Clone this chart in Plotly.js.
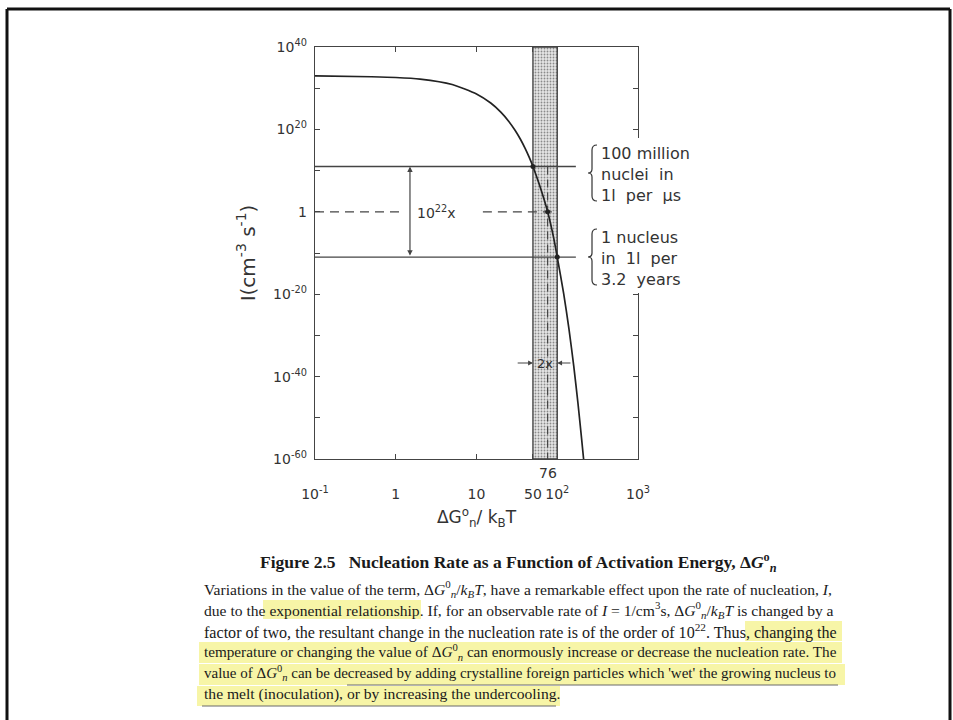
<!DOCTYPE html>
<html>
<head>
<meta charset="utf-8">
<script src="https://cdn.plot.ly/plotly-3.0.1.min.js"></script>
<style>
  html, body { margin: 0; padding: 0; background: #ffffff; }
  #chart { width: 953px; height: 720px; }
</style>
</head>
<body>
<div id="chart"></div>
<script>
// Nucleation rate I (cm^-3 s^-1) against the reduced activation energy ΔG°n / kBT
const energy = [0.1, 0.5, 1, 2, 5, 10, 15, 20, 25, 30, 35, 40, 45, 50, 60, 76, 90, 100, 120, 140, 160, 180, 200, 212];
const rate = [1e33, 6e32, 4e32, 1.6e32, 8e30, 4e28, 2.5e26, 1.6e24, 1e22, 6e19, 4e17, 2.5e15, 1.6e13,
              1e11, 4e6, 1, 6e-7, 1e-11, 1.6e-20, 2.5e-29, 4e-38, 6e-47, 1e-55, 1e-60];

// factor-of-two window of ΔG°n/kBT and the point where I = 1
const band = [50, 100];
const centreEnergy = 76;
const unitRate = 1;

// reference rates: 100 million nuclei in 1 l per µs, and 1 nucleus in 1 l per 3.2 years
const refRates = [1e11, 1e-11];
const refLineEnd = 170;

// points where the curve crosses the reference rates
const markEnergy = [50, 76, 100];
const markRate = [1e11, 1, 1e-11];

// axis ticks
const energyTicks = [0.1, 1, 10, 50, 100, 1000];
const energyTickText = ['10<sup>-1</sup>', '1', '10', '50', '10<sup>2</sup>', '10<sup>3</sup>'];
const rateTicks = [1e-60, 1e-50, 1e-40, 1e-30, 1e-20, 1e-10, 1, 1e10, 1e20, 1e30, 1e40];
const rateTickText = ['10<sup>-60</sup>', '', '10<sup>-40</sup>', '', '10<sup>-20</sup>', '', '1', '', '10<sup>20</sup>', '', '10<sup>40</sup>'];

// plot frame in pixels
const W = 953, H = 720;
const L = 315, R = 638, T = 47, B = 459;
const px = x => (x - L) / (R - L);
const py = y => (B - y) / (B - T);
const lg = Math.log10;

const ink = '#333333';
const lineInk = '#444444';
const plotFont = 'DejaVu Sans, Verdana, sans-serif';
const textFont = 'Liberation Serif, Times New Roman, serif';

const yMin = rateTicks[0], yMax = rateTicks[rateTicks.length - 1];

const traces = [
  // shaded factor-of-two window
  {
    x: [band[0], band[1], band[1], band[0], band[0]],
    y: [yMin, yMin, yMax, yMax, yMin],
    mode: 'lines', fill: 'toself',
    fillcolor: '#dedede',
    fillpattern: { shape: '.', size: 3, solidity: 0.3, fgcolor: '#8a8a8a', bgcolor: '#e6e6e6' },
    line: { color: '#3c3c3c', width: 1.3 },
    hoverinfo: 'skip'
  },
  // reference rate lines
  {
    x: [energy[0], refLineEnd], y: [refRates[0], refRates[0]],
    mode: 'lines', line: { color: lineInk, width: 1.3 }, hoverinfo: 'skip'
  },
  {
    x: [energy[0], refLineEnd], y: [refRates[1], refRates[1]],
    mode: 'lines', line: { color: lineInk, width: 1.3 }, hoverinfo: 'skip'
  },
  // I = 1 dashed guide, broken round the 10^22 label
  {
    x: [energy[0], 1.3], y: [unitRate, unitRate],
    mode: 'lines', line: { color: lineInk, width: 1.2, dash: '9px,6px' }, hoverinfo: 'skip'
  },
  {
    x: [12, band[1]], y: [unitRate, unitRate],
    mode: 'lines', line: { color: lineInk, width: 1.2, dash: '9px,6px' }, hoverinfo: 'skip'
  },
  // vertical dashed guide at ΔG°n/kBT = 76
  {
    x: [centreEnergy, centreEnergy], y: [refRates[0], yMin],
    mode: 'lines', line: { color: lineInk, width: 1.2, dash: '8px,5px' }, hoverinfo: 'skip'
  },
  // nucleation rate curve
  {
    x: energy, y: rate,
    mode: 'lines', line: { color: '#222222', width: 1.7, shape: 'spline', smoothing: 0.6 },
    hoverinfo: 'skip'
  },
  // crossing points
  {
    x: markEnergy, y: markRate,
    mode: 'markers', marker: { color: '#222222', size: 5 }, hoverinfo: 'skip'
  }
];

// curly brace drawn in pixel space, converted to paper coordinates
function brace(x, y0, y1) {
  const m = (y0 + y1) / 2, w = 5;
  const P = (a, b) => px(a).toFixed(5) + ',' + py(b).toFixed(5);
  return 'M' + P(x + w, y0) +
    ' Q' + P(x, y0) + ' ' + P(x, y0 + 5) +
    ' L' + P(x, m - 4) +
    ' Q' + P(x, m) + ' ' + P(x - 4, m) +
    ' Q' + P(x, m) + ' ' + P(x, m + 4) +
    ' L' + P(x, y1 - 5) +
    ' Q' + P(x, y1) + ' ' + P(x + w, y1);
}

const hiColor = 'rgba(240, 236, 95, 0.55)';
const hi = (x0, x1, y0, y1) => ({
  type: 'rect', xref: 'paper', yref: 'paper', layer: 'below',
  x0: px(x0), x1: px(x1), y0: py(y1), y1: py(y0),
  fillcolor: hiColor, line: { width: 0 }
});
const pen = (x0, x1, y) => ({
  type: 'line', xref: 'paper', yref: 'paper', layer: 'above',
  x0: px(x0), x1: px(x1), y0: py(y), y1: py(y),
  line: { color: '#6a6a6a', width: 1 }
});
const edge = (x0, y0, x1, y1) => ({
  type: 'line', xref: 'paper', yref: 'paper', layer: 'above',
  x0: px(x0), x1: px(x1), y0: py(y0), y1: py(y1),
  line: { color: '#111111', width: 3 }
});

const shapes = [
  // page border
  edge(7, 9, 950, 9),
  edge(7, 9, 7, 720),
  edge(950, 9, 950, 720),
  // gap in the right-hand frame where the notes sit
  {
    type: 'rect', xref: 'paper', yref: 'paper', layer: 'above',
    x0: px(628), x1: px(700), y0: py(293), y1: py(138),
    fillcolor: '#ffffff', line: { width: 0 }
  },
  { type: 'path', xref: 'paper', yref: 'paper', path: brace(592, 145, 201), line: { color: ink, width: 1.2 } },
  { type: 'path', xref: 'paper', yref: 'paper', path: brace(592, 229, 285), line: { color: ink, width: 1.2 } },
  // marker highlights in the caption
  hi(263, 421, 600, 619),
  hi(745, 842, 621, 641),
  hi(199, 842, 642, 663),
  hi(199, 845, 664, 685),
  hi(197, 560, 686, 706),
  pen(347, 838, 685),
  pen(202, 556, 706)
];

const dG = 'Δ<i>G</i><sup>0</sup><sub><i>n</i></sub>';
const captionLines = [
  'Variations in the value of the term, ' + dG + '/<i>k<sub>B</sub>T</i>, have a remarkable effect upon the rate of nucleation, <i>I</i>,',
  'due to the exponential relationship. If, for an observable rate of <i>I</i> = 1/cm<sup>3</sup>s, ' + dG + '/<i>k<sub>B</sub>T</i> is changed by a',
  'factor of two, the resultant change in the nucleation rate is of the order of 10<sup>22</sup>. Thus, changing the',
  'temperature or changing the value of ' + dG + ' can enormously increase or decrease the nucleation rate. The',
  'value of ' + dG + ' can be decreased by adding crystalline foreign particles which \'wet\' the growing nucleus to',
  'the melt (inoculation), or by increasing the undercooling.'
];
const captionY = [589, 610, 631, 652, 673, 694];
// per-line sizes so the full lines span the same width, as in a justified block
const captionSize = [15.6, 15.6, 16.1, 15.2, 15.0, 15.6];

const notes = [
  // right-hand notes
  {
    xref: 'paper', yref: 'paper', x: px(599), y: py(174), xanchor: 'left', yanchor: 'middle',
    align: 'left', showarrow: false,
    text: '100 million<br>nuclei  in<br>1l  per  µs',
    font: { family: plotFont, size: 16, color: ink }
  },
  {
    xref: 'paper', yref: 'paper', x: px(599), y: py(258), xanchor: 'left', yanchor: 'middle',
    align: 'left', showarrow: false,
    text: '1 nucleus<br>in  1l  per<br>3.2  years',
    font: { family: plotFont, size: 16, color: ink }
  },
  // 10^22 span label and double arrow
  {
    xref: 'x', yref: 'y', x: lg(3.2), y: lg(unitRate), showarrow: false,
    text: '10<sup>22</sup>x', font: { family: plotFont, size: 14, color: ink }
  },
  {
    xref: 'x', yref: 'y', axref: 'x', ayref: 'y',
    x: lg(1.5), y: lg(refRates[0]), ax: lg(1.5), ay: lg(refRates[1]),
    text: '', showarrow: true, arrowside: 'end+start', arrowhead: 2, arrowsize: 0.9,
    arrowwidth: 1.2, arrowcolor: lineInk, standoff: 0, startstandoff: 0
  },
  // factor of two across the band
  {
    xref: 'x', yref: 'y', axref: 'x', ayref: 'y',
    x: lg(band[0]), y: -36.7, ax: lg(31), ay: -36.7,
    text: '', showarrow: true, arrowhead: 2, arrowsize: 0.8, arrowwidth: 1.2, arrowcolor: lineInk
  },
  {
    xref: 'x', yref: 'y', axref: 'x', ayref: 'y',
    x: lg(band[1]), y: -36.7, ax: lg(152), ay: -36.7,
    text: '', showarrow: true, arrowhead: 2, arrowsize: 0.8, arrowwidth: 1.2, arrowcolor: lineInk
  },
  {
    xref: 'x', yref: 'y', x: (lg(band[0]) + lg(band[1])) / 2, y: -36.7, showarrow: false,
    text: '2x', font: { family: plotFont, size: 13, color: ink }
  },
  // 76 marker under the axis
  {
    xref: 'x', yref: 'paper', x: lg(centreEnergy), y: py(473), yanchor: 'middle', showarrow: false,
    text: '76', font: { family: plotFont, size: 14, color: ink }
  },
  // figure caption
  {
    xref: 'paper', yref: 'paper', x: px(518), y: py(562), xanchor: 'center', yanchor: 'middle',
    showarrow: false,
    text: '<b>Figure 2.5   Nucleation Rate as a Function of Activation Energy, Δ<i>G</i><sup>o</sup><sub><i>n</i></sub></b>',
    font: { family: textFont, size: 17.5, color: '#1a1a1a' }
  }
].concat(captionLines.map((t, i) => ({
  xref: 'paper', yref: 'paper', x: px(202), y: py(captionY[i]), xanchor: 'left', yanchor: 'middle',
  showarrow: false, text: t, font: { family: textFont, size: captionSize[i], color: '#1a1a1a' }
})));

const axisCommon = {
  type: 'log', showgrid: false, zeroline: false,
  showline: true, linecolor: lineInk, linewidth: 1.3, mirror: 'ticks',
  ticks: 'inside', ticklen: 5, tickwidth: 1, tickcolor: lineInk,
  fixedrange: true
};

const layout = {
  width: W, height: H,
  margin: { l: L, r: W - R, t: T, b: H - B, pad: 0 },
  paper_bgcolor: '#ffffff', plot_bgcolor: '#ffffff',
  showlegend: false,
  font: { family: plotFont, color: ink, size: 14 },
  xaxis: Object.assign({}, axisCommon, {
    range: [-1, 3],
    tickvals: energyTicks, ticktext: energyTickText, tickangle: 0,
    ticklabelstandoff: 22,
    tickfont: { family: plotFont, size: 14, color: ink },
    title: { text: 'ΔG<sup>o</sup><sub>n</sub>/ k<sub>B</sub>T', font: { family: plotFont, size: 17, color: ink }, standoff: 10 }
  }),
  yaxis: Object.assign({}, axisCommon, {
    range: [-60, 40],
    tickvals: rateTicks, ticktext: rateTickText,
    ticklabelstandoff: 4,
    tickfont: { family: plotFont, size: 14, color: ink },
    title: { text: 'I(cm<sup>-3</sup> s<sup>-1</sup>)', font: { family: plotFont, size: 20, color: ink }, standoff: 12 }
  }),
  shapes: shapes,
  annotations: notes
};

Plotly.newPlot('chart', traces, layout, { displayModeBar: false, staticPlot: true });
</script>
</body>
</html>
